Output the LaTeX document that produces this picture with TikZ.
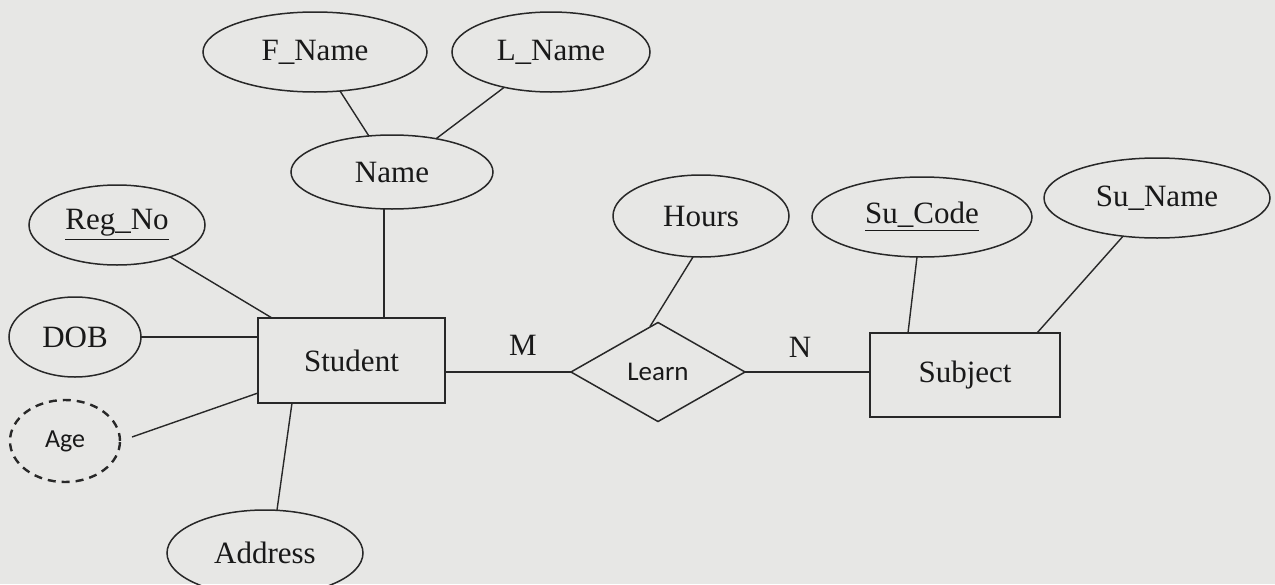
\documentclass[tikz,border=0pt]{standalone}
\usepackage{fontspec}
\setmainfont{Liberation Serif}
\newfontfamily\sansf{Carlito}
\usetikzlibrary{shapes.geometric,calc}
\definecolor{bgc}{RGB}{231,231,229}
\definecolor{inkc}{RGB}{40,40,40}
\definecolor{txtc}{RGB}{25,25,25}
\tikzset{
  base/.style={draw=inkc, line width=0.75pt, inner sep=0pt, outer sep=0pt, text=txtc,
    font=\fontsize{15.5}{18}\selectfont},
  attr/.style={base, ellipse},
  derived/.style={base, ellipse, dashed, dash pattern=on 4pt off 3pt, line width=1.2pt,
    font=\sansf\fontsize{13}{15}\selectfont},
  entity/.style={base, rectangle},
  rel/.style={base, diamond, font=\sansf\fontsize{13.5}{15}\selectfont},
  link/.style={draw=inkc, line width=0.7pt},
  card/.style={text=txtc, font=\fontsize{15.5}{18}\selectfont, inner sep=0pt}
}
\begin{document}
\begin{tikzpicture}[x=0.5pt,y=-0.5pt]
\fill[bgc] (0,0) rectangle (1275,584);
\useasboundingbox (0,0) rectangle (1275,584);

% attributes
\node[attr, minimum width=112pt, minimum height=40pt] (FName) at (315,52) {F\_Name};
\node[attr, minimum width=99pt, minimum height=40pt] (LName) at (551,52) {L\_Name};
\node[attr, minimum width=101pt, minimum height=37pt] (Name) at (392,172) {Name};
\node[attr, minimum width=88pt, minimum height=40pt] (RegNo) at (117,225) {\underline{Reg\_No}};
\node[attr, minimum width=66pt, minimum height=40pt] (DOB) at (75,337) {DOB};
\node[derived, minimum width=55pt, minimum height=41pt] (Age) at (65,441) {Age};
\node[attr, minimum width=98pt, minimum height=43pt] (Address) at (265,553) {Address};
\node[attr, minimum width=88pt, minimum height=41pt] (Hours) at (701,216) {Hours};
\node[attr, minimum width=110pt, minimum height=40pt] (SuCode) at (922,217) {\underline{Su\_Code}};
\node[attr, minimum width=113pt, minimum height=40pt] (SuName) at (1157,198) {Su\_Name};

% entities and relationship
\node[entity, minimum width=93.5pt, minimum height=42.5pt] (Student) at (351.5,360.5) {Student};
\node[entity, minimum width=95pt, minimum height=42pt] (Subject) at (965,375) {Subject};
\node[rel, minimum width=87pt, minimum height=49.5pt] (Learn) at (658,372) {Learn};

% cardinalities
\node[card] (M) at (523,345) {M};
\node[card] (N) at (800,347) {N};

% helper coordinates
\coordinate (nB) at ($(Name.south)+(-8,0)$);
\coordinate (sRN) at ($(Student.north west)+(14,0)$);
\coordinate (aE) at ($(Age.east)+(12,-4)$);
\coordinate (sAg) at ($(Student.south west)+(0,-10)$);
\coordinate (sAd) at ($(Student.south west)+(34,0)$);
\coordinate (adN) at ($(Address.north)+(12,0)$);
\coordinate (hS) at ($(Hours.south)+(-8,0)$);
\coordinate (lN) at ($(Learn.north)+(-8,4)$);
\coordinate (scS) at ($(SuCode.south)+(-5,0)$);
\coordinate (sbN) at ($(Subject.north west)+(38,0)$);
\coordinate (sSN) at ($(Subject.north east)+(-23,0)$);

% connectors
\draw[link] (FName) -- (Name);
\draw[link] (LName) -- (Name);
\draw[link] (nB) -- (nB |- Student.north);
\draw[link] (RegNo) -- (sRN);
\draw[link] (DOB.east) -- (DOB.east -| Student.west);
\draw[link] (aE) -- (sAg);
\draw[link] (sAd) -- (adN);
\draw[link] (Learn.west) -- (Learn.west -| Student.east);
\draw[link] (Learn.east) -- (Learn.east -| Subject.west);
\draw[link] (hS) -- (lN);
\draw[link] (scS) -- (sbN);
\draw[link] (SuName) -- (sSN);
\end{tikzpicture}
\end{document}
